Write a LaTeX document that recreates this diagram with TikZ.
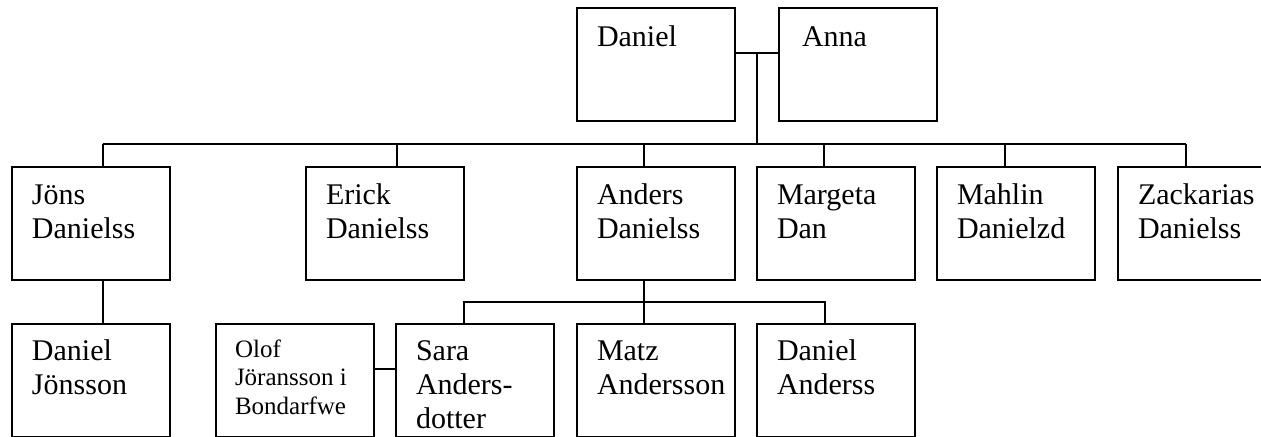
\documentclass[tikz,border=0pt]{standalone}
\usepackage{fontspec}
\setmainfont{Liberation Serif}
\begin{document}
\begin{tikzpicture}[x=0.4pt,y=-0.4pt,
            person/.style={draw,line width=0.8pt,anchor=north west,minimum width=63.2pt,
                           minimum height=45.2pt,inner sep=0,outer sep=0},
            who/.style={anchor=base west,align=left,inner sep=0,outer sep=0,
                        font=\fontsize{12}{13.6}\selectfont},
            small who/.style={who,font=\fontsize{10}{11.4}\selectfont},
            link/.style={line width=0.8pt}]
            \useasboundingbox (0,0) rectangle (1261,436);
            \clip (0,0) rectangle (1261,436);
            %==================
            \node[person] (daniel) at (577,8) {};
            \node[person] (anna) at (779,8) {};
            %==================
            \node[person] (jons) at (12,167) {};
            \node[person] (erick) at (306,167) {};
            \node[person] (anders) at (577,167) {};
            \node[person] (margeta) at (757,167) {};
            \node[person] (mahlin) at (937,167) {};
            \node[person] (zack) at (1118,167) {};
            %==================
            \node[person] (jonsson) at (12,324) {};
            \node[person] (olof) at (216,324) {};
            \node[person] (sara) at (396,324) {};
            \node[person] (matz) at (577,324) {};
            \node[person] (danA) at (757,324) {};
            % ===================
            % base anchor = baseline of the last line
            \node[who] (daniel-t) at ([shift={(8pt,-15.2pt)}]daniel.north west) {Daniel};
            \node[who] (anna-t) at ([shift={(9.2pt,-15.2pt)}]anna.north west) {Anna};
            \node[who] (jons-t) at ([shift={(8pt,-28.4pt)}]jons.north west) {Jöns\\Danielss};
            \node[who] (erick-t) at ([shift={(8pt,-28.4pt)}]erick.north west) {Erick\\Danielss};
            \node[who] (anders-t) at ([shift={(8pt,-28.4pt)}]anders.north west) {Anders\\Danielss};
            \node[who] (margeta-t) at ([shift={(8pt,-28.4pt)}]margeta.north west) {Margeta\\Dan};
            \node[who] (mahlin-t) at ([shift={(8pt,-28.4pt)}]mahlin.north west) {Mahlin\\Danielzd};
            \node[who] (zack-t) at ([shift={(8pt,-28.4pt)}]zack.north west) {Zackarias\\Danielss};
            \node[who] (jonsson-t) at ([shift={(8pt,-28pt)}]jonsson.north west) {Daniel\\Jönsson};
            \node[small who] (olof-t) at ([shift={(7.6pt,-36pt)}]olof.north west) {Olof\\Jöransson i\\Bondarfwe};
            \node[who] (sara-t) at ([shift={(8pt,-41.6pt)}]sara.north west) {Sara\\Anders-\\dotter};
            \node[who] (matz-t) at ([shift={(8pt,-28pt)}]matz.north west) {Matz\\Andersson};
            \node[who] (danA-t) at ([shift={(8pt,-28pt)}]danA.north west) {Daniel\\Anderss};
            % ===================
            \coordinate (bar) at (0,144);
            \coordinate (kids) at (0,302);
            \draw[link] ([yshift=4.6pt]daniel.east) -- coordinate (wed) ([yshift=4.6pt]anna.west);
            \draw[link] (wed) -- (wed |- bar);
            \draw[link] ([xshift=4.6pt]jons.north |- bar) -- ([xshift=-4.4pt]zack.north |- bar);
            \foreach \n/\s in {jons/4.6pt,erick/4.8pt,anders/-4.8pt,margeta/-4.8pt,mahlin/-4.6pt,zack/-4.4pt}{
                \draw[link] ([xshift=\s]\n.north) -- ([xshift=\s]\n.north |- bar);
            }
            % ===================
            \draw[link] ([xshift=4.6pt]jons.south) -- ([xshift=4.6pt]jonsson.north);
            \draw[link] ([xshift=-4.8pt]anders.south) -- ([xshift=-4.8pt]matz.north);
            \draw[link] ([xshift=-4.4pt]sara.north) -- ([xshift=-4.4pt]sara.north |- kids)
                        -- ([xshift=-4.4pt]danA.north |- kids) -- ([xshift=-4.4pt]danA.north);
            \draw[link] ([yshift=4.6pt]olof.east) -- ([yshift=4.6pt]sara.west);
        \end{tikzpicture}
\end{document}
